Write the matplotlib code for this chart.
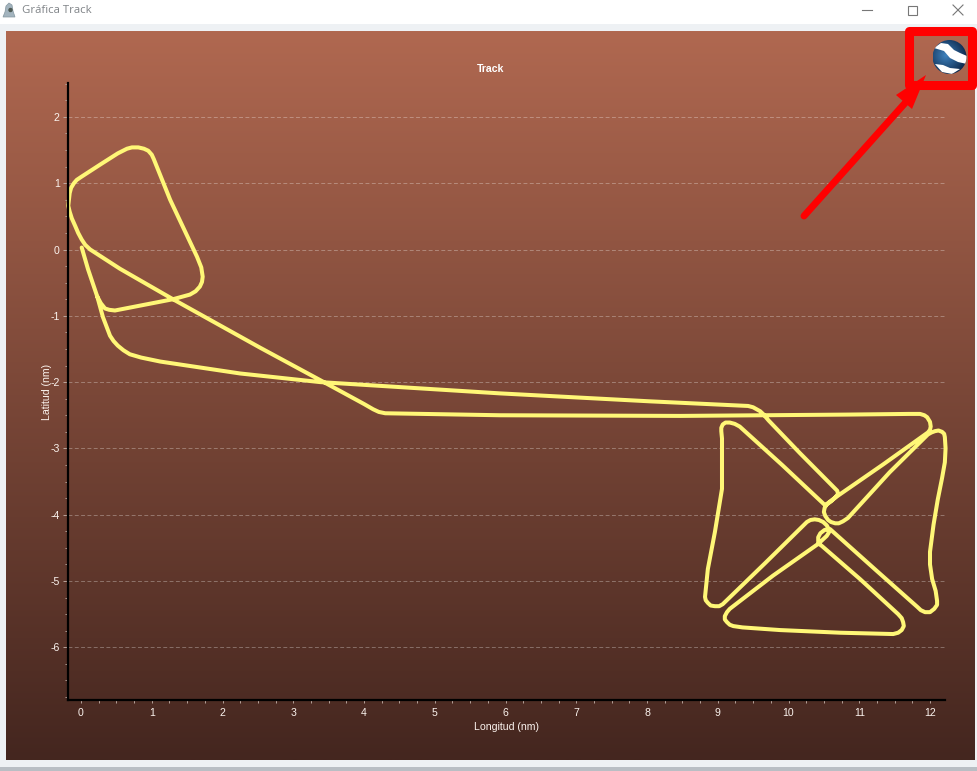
import numpy as np
import matplotlib
matplotlib.use("Agg")
import matplotlib.pyplot as plt
from matplotlib.patches import Rectangle, Polygon, Circle
from matplotlib.ticker import MultipleLocator

plt.rcParams['font.family'] = ['Liberation Sans', 'DejaVu Sans']
plt.rcParams['axes.unicode_minus'] = False

window_title = "Gráfica Track"
chart_title = "Track"
x_label = "Longitud (nm)"
y_label = "Latitud (nm)"
x_ticks = list(range(0, 13))
y_ticks = [2, 1, 0, -1, -2, -3, -4, -5, -6]

longitude = [
    0.01, 0.10, 0.23, 0.31, 0.41, 0.46, 0.52, 0.60, 0.69, 0.85, 1.12, 2.25, 3.38, 5.92, 8.04,
    9.43, 9.50, 9.55, 9.60, 9.64, 9.72, 10.16, 10.69, 10.70, 10.66, 10.60, 10.52, 9.91, 9.31,
    9.24, 9.17, 9.11, 9.07, 9.05, 9.05, 9.06, 9.06, 9.06, 8.96, 8.86, 8.82, 8.83, 8.86, 8.90,
    8.96, 9.02, 9.07, 9.67, 10.26, 10.31, 10.37, 10.43, 10.49, 10.54, 10.57, 10.57, 10.54,
    10.48, 10.42, 9.78, 9.17, 9.13, 9.10, 9.10, 9.13, 9.17, 9.22, 9.35, 9.88, 10.73, 11.48,
    11.55, 11.60, 11.63, 11.62, 11.60, 11.55, 11.01, 10.47, 10.43, 10.42, 10.42, 10.45, 10.51,
    10.59, 11.25, 11.82, 11.87, 11.93, 12.00, 12.06, 12.10, 12.10, 12.08, 12.03, 12.00, 12.00,
    12.05, 12.11, 12.17, 12.21, 12.22, 12.21, 12.20, 12.17, 12.12, 12.07, 12.02, 11.97, 11.43,
    10.90, 10.84, 10.77, 10.71, 10.66, 10.60, 10.56, 10.52, 10.50, 10.51, 10.54, 10.60, 10.69,
    11.34, 11.97, 12.00, 12.01, 12.00, 11.96, 11.92, 11.86, 11.70, 10.83, 9.60, 8.47, 5.92,
    4.30, 4.21, 4.13, 4.00, 3.38, 2.53, 1.30, 0.55, 0.13, 0.06, 0.01, -0.04, -0.08, -0.13,
    -0.16, -0.18, -0.17, -0.16, -0.14, -0.10, -0.06, 0.01, 0.27, 0.52, 0.65, 0.72, 0.81, 0.89,
    0.95, 1.00, 1.03, 1.26, 1.64, 1.70, 1.72, 1.71, 1.68, 1.62, 1.54, 1.30, 0.48, 0.40, 0.34,
    0.28, 0.23,
]
latitude = [
    0.03, -0.30, -0.71, -1.02, -1.30, -1.38, -1.45, -1.52, -1.58, -1.63, -1.69, -1.87, -2.00,
    -2.17, -2.29, -2.36, -2.38, -2.41, -2.44, -2.48, -2.58, -3.07, -3.64, -3.69, -3.74, -3.80,
    -3.86, -3.25, -2.67, -2.63, -2.61, -2.61, -2.64, -2.69, -2.74, -2.85, -3.12, -3.61, -4.26,
    -4.82, -5.24, -5.29, -5.33, -5.37, -5.38, -5.38, -5.35, -4.73, -4.11, -4.08, -4.07, -4.08,
    -4.11, -4.16, -4.22, -4.27, -4.32, -4.38, -4.44, -4.92, -5.42, -5.47, -5.53, -5.58, -5.62,
    -5.66, -5.68, -5.70, -5.74, -5.78, -5.80, -5.78, -5.74, -5.68, -5.62, -5.56, -5.50, -4.97,
    -4.47, -4.44, -4.40, -4.34, -4.28, -4.23, -4.22, -4.85, -5.39, -5.44, -5.47, -5.47, -5.42,
    -5.36, -5.30, -5.15, -4.97, -4.75, -4.56, -4.15, -3.77, -3.45, -3.21, -3.00, -2.83, -2.78,
    -2.75, -2.73, -2.74, -2.76, -2.79, -3.36, -3.98, -4.05, -4.10, -4.13, -4.13, -4.11, -4.08,
    -4.02, -3.96, -3.90, -3.84, -3.79, -3.72, -3.24, -2.76, -2.72, -2.67, -2.60, -2.53, -2.50,
    -2.48, -2.48, -2.49, -2.50, -2.51, -2.50, -2.47, -2.45, -2.41, -2.33, -1.97, -1.48, -0.75,
    -0.29, 0.0, 0.07, 0.15, 0.25, 0.35, 0.47, 0.57, 0.66, 0.75, 0.85, 0.93, 1.00, 1.05, 1.10,
    1.28, 1.45, 1.52, 1.54, 1.54, 1.52, 1.49, 1.43, 1.36, 0.75, -0.11, -0.27, -0.41, -0.49,
    -0.56, -0.63, -0.68, -0.75, -0.92, -0.91, -0.89, -0.81, -0.71,
]

W, H = 977, 771
fig = plt.figure(figsize=(W / 100, H / 100), dpi=100, facecolor='white')

# window layer in pixel coordinates
bg = fig.add_axes([0, 0, 1, 1], zorder=0)
bg.axis('off')
bg.add_patch(Rectangle((0, 24), W, 743, fc='#EEF1F4', ec='none'))
bg.add_patch(Rectangle((0, 767), W, 4, fc='#B9BEC4', ec='none'))
top_col = np.array([176, 104, 80]) / 255
bot_col = np.array([68, 38, 31]) / 255
t = np.linspace(0, 1, 256)[:, None, None]
grad = top_col[None, None, :] * (1 - t) + bot_col[None, None, :] * t
bg.imshow(grad, extent=(6, 975, 760, 31), aspect='auto', interpolation='bilinear', zorder=1)
bg.set_xlim(0, W)
bg.set_ylim(H, 0)

# title bar
bg.text(22, 10.5, window_title, family=['Open Sans', 'DejaVu Sans'], fontsize=8.2,
        color='#808488', va='center', ha='left')
bg.add_patch(Polygon([[3, 17], [5, 12], [6, 6], [9, 3], [12, 5], [13, 11], [15, 17]],
                     fc='#A3B4BE', ec='#8496A0', lw=0.5, zorder=2))
bg.add_patch(Circle((10.5, 10), 2.2, fc='#4E5A54', ec='none', zorder=3))
bg.plot([862, 872], [10, 10], color='#777777', lw=0.8)
bg.add_patch(Rectangle((907.5, 5.5), 9, 9, fc='none', ec='#777777', lw=0.8))
bg.plot([953, 963], [5, 15], color='#777777', lw=0.8)
bg.plot([953, 963], [15, 5], color='#777777', lw=0.8)

# main chart
L, R, T, B = 68, 945, 83, 700
ax = fig.add_axes([L / W, 1 - B / H, (R - L) / W, (B - T) / H], zorder=2)
ax.patch.set_alpha(0)
ax.set_xlim((L - 81) / 70.75, (R - 81) / 70.75)
ax.set_ylim((249.5 - B) / 66.3, (249.5 - T) / 66.3)
for s in ('top', 'right'):
    ax.spines[s].set_visible(False)
for s in ('left', 'bottom'):
    ax.spines[s].set_color('black')
    ax.spines[s].set_linewidth(1.6)
ax.set_xticks(x_ticks)
ax.set_yticks(y_ticks)
ax.xaxis.set_minor_locator(MultipleLocator(0.25))
ax.yaxis.set_minor_locator(MultipleLocator(0.25))
ax.tick_params(axis='x', which='major', length=2, width=0.6, color='#C8B4AC', labelcolor='#FBF3EE',
               labelsize=7.6, pad=3.5)
ax.tick_params(axis='y', which='major', length=3.5, width=0.6, color='#C8B4AC', labelcolor='#FBF3EE',
               labelsize=7.6, pad=2.5)
ax.tick_params(which='minor', length=2, width=0.6, color='#C8B4AC')
ax.yaxis.grid(True, which='major', color='white', alpha=0.3, lw=0.7, ls=(0, (4, 2.5)))
ax.set_axisbelow(True)
ax.plot(longitude, latitude, color='#FFF777', lw=2.9, solid_joinstyle='round',
        solid_capstyle='round', clip_on=False)
ax.set_xlabel(x_label, color='#FBF3EE', fontsize=7.6, labelpad=3)
ax.set_ylabel(y_label, color='#FBF3EE', fontsize=7.6, labelpad=-1)
fig.text(491 / W, 1 - 69.5 / H, chart_title, color='white', fontsize=7.6, fontweight='bold',
         ha='center', va='center', zorder=5)

# annotations in pixel coordinates
top = fig.add_axes([0, 0, 1, 1], zorder=3)
top.patch.set_alpha(0)
top.axis('off')
gx, gy, gr = 949.5, 57, 17
yy, xx = np.mgrid[-1:1:120j, -1:1:120j]
d = np.clip(np.hypot(xx + 0.25, yy + 0.1), 0, 1.4) / 1.4
c1, c2 = np.array([62, 130, 190]) / 255, np.array([8, 30, 62]) / 255
img = c1[None, None, :] * (1 - d[..., None]) + c2[None, None, :] * d[..., None]
im = top.imshow(img, extent=(gx - gr, gx + gr, gy + gr, gy - gr), aspect='auto', zorder=5)
im.set_clip_path(Circle((gx, gy), gr, transform=top.transData))
top.set_xlim(0, W)
top.set_ylim(H, 0)
sw1 = Polygon([[934, 48], [941, 43], [948, 44], [954, 50], [960, 53], [967, 56], [967, 64],
               [958, 62], [950, 58], [944, 51]], fc='white', ec='none', zorder=6)
sw2 = Polygon([[935, 64], [943, 65], [950, 68], [960, 69], [952, 74], [942, 72]],
              fc='white', ec='none', zorder=6)
top.add_patch(sw1)
top.add_patch(sw2)
sw1.set_clip_path(Circle((gx, gy), gr, transform=top.transData))
sw2.set_clip_path(Circle((gx, gy), gr, transform=top.transData))
top.add_patch(Rectangle((909, 31), 63, 54, fc='none', ec='#FF0000', lw=6.5, joinstyle='round', zorder=7))
top.plot([804, 906], [216, 102], color='#FF0000', lw=5, solid_capstyle='round', zorder=7)
top.add_patch(Polygon([[896, 95], [926, 75], [912, 109]], fc='#FF0000', ec='none', zorder=7))

fig.savefig('out.png', dpi=100, facecolor='white')
